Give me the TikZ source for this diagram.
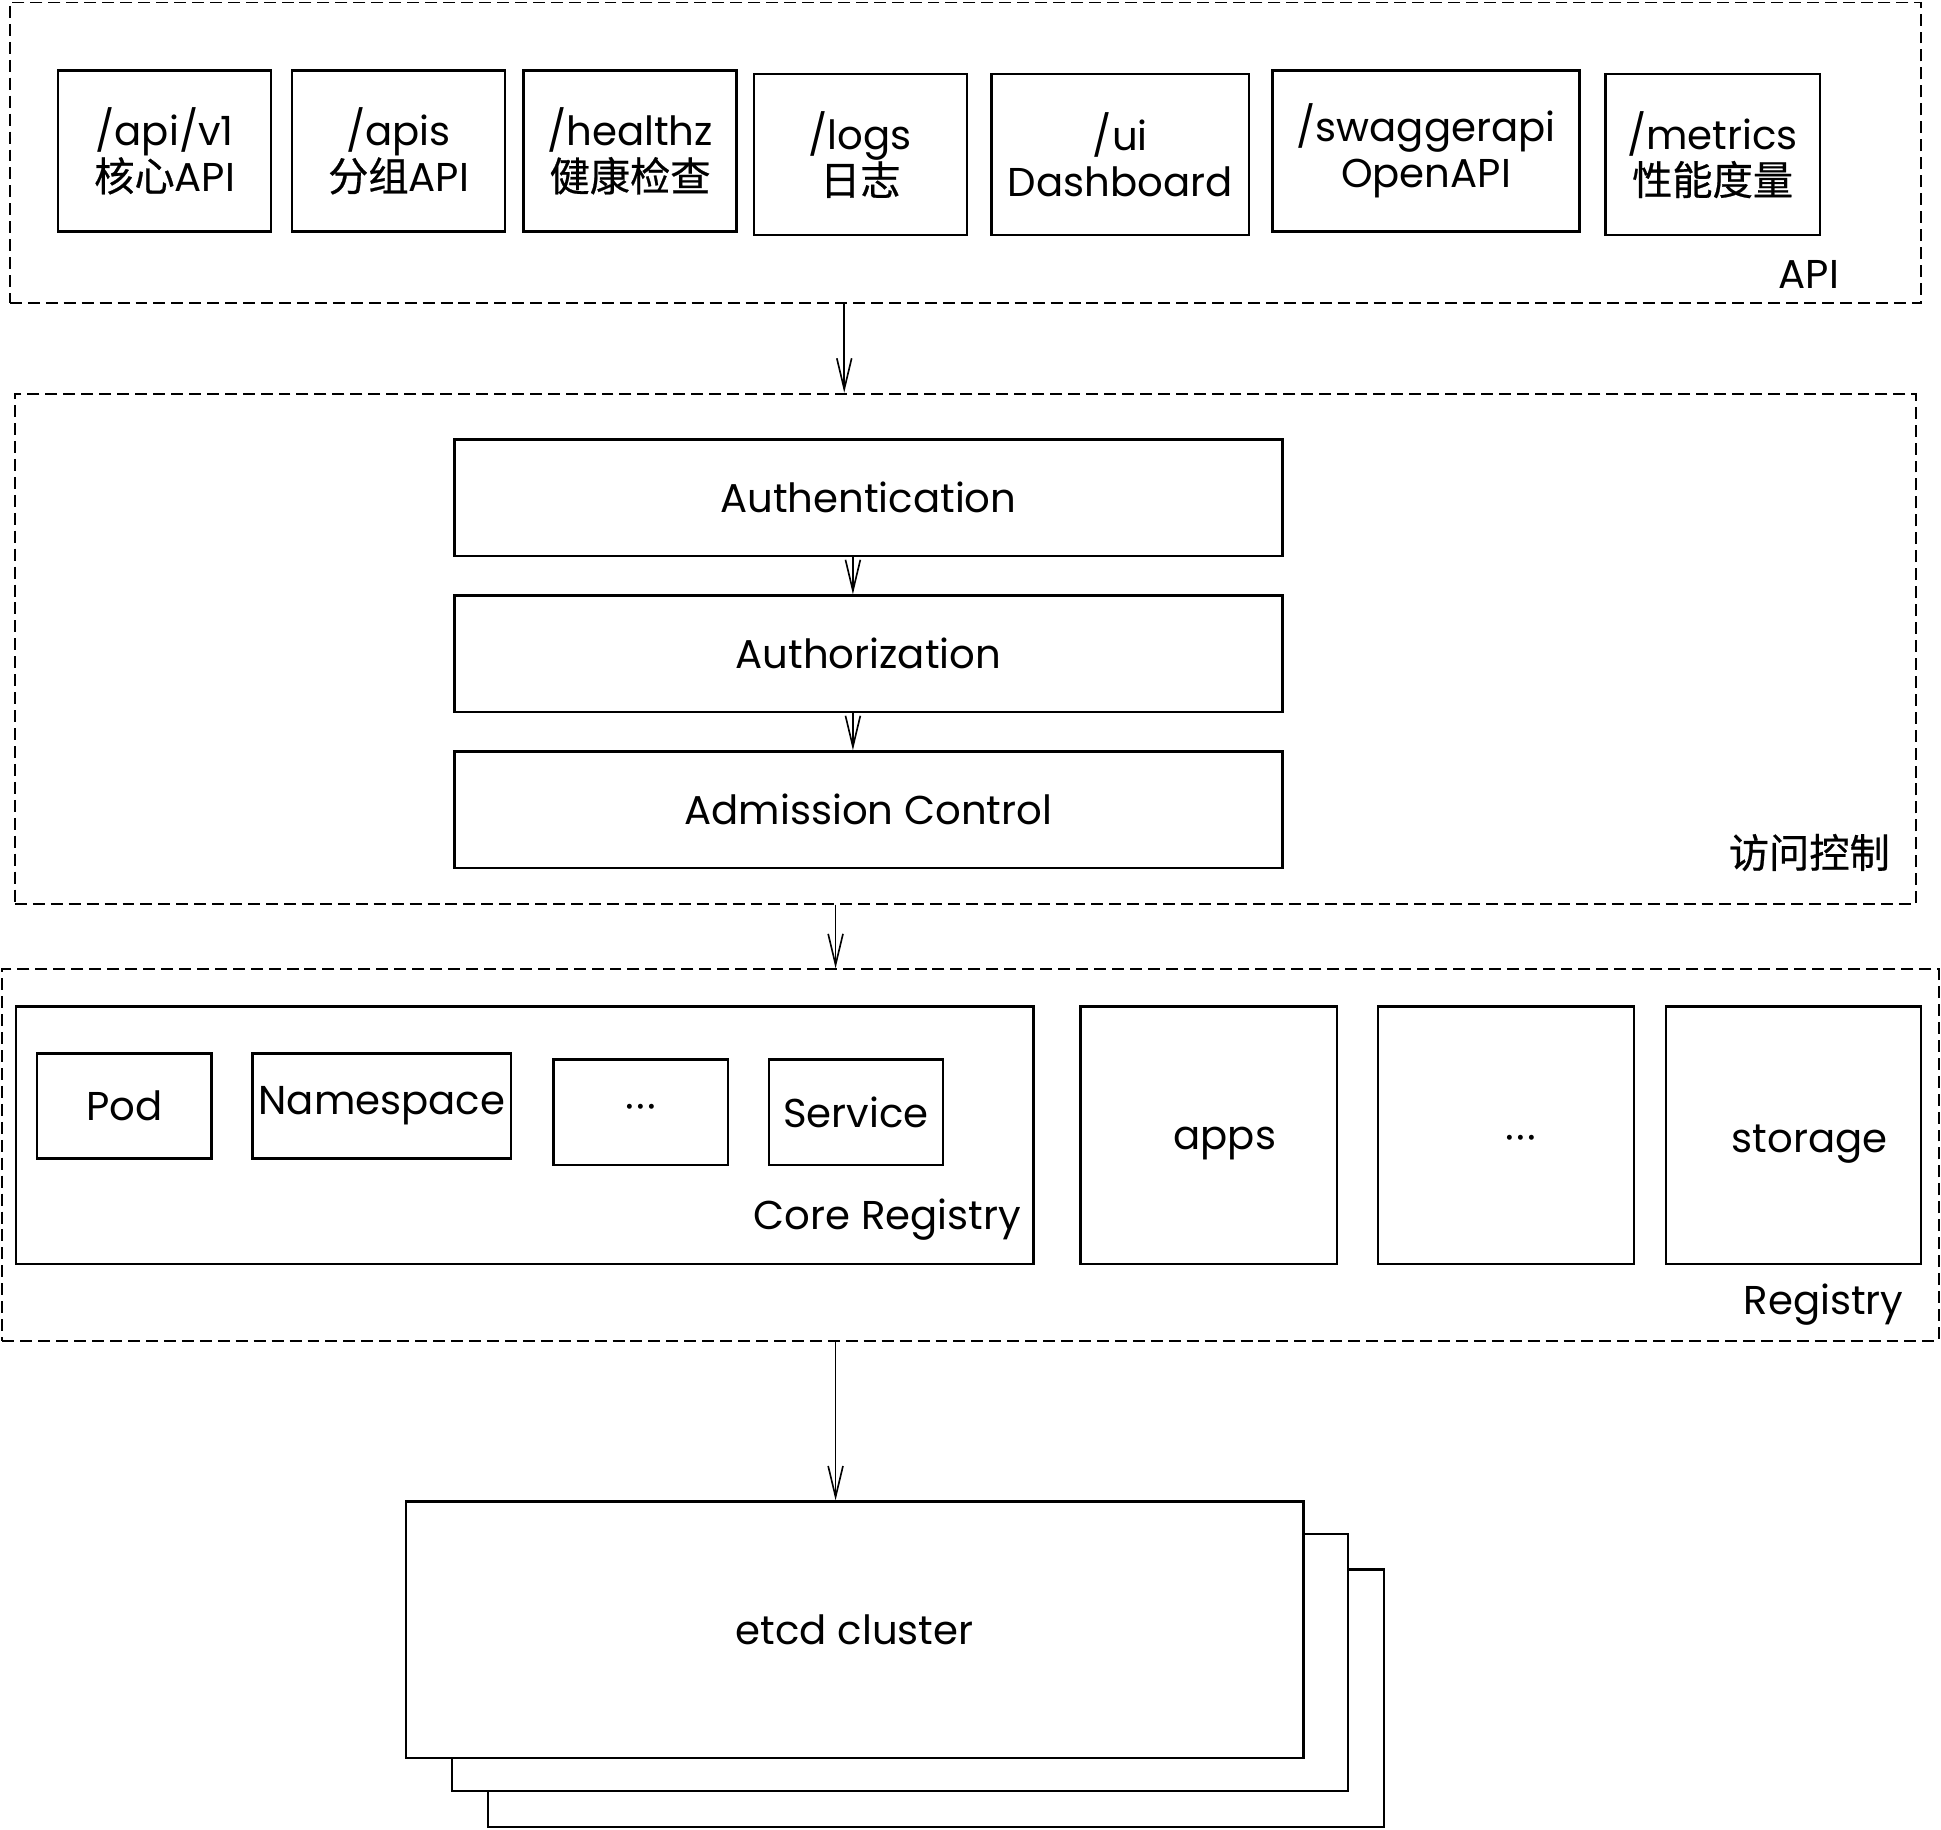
\documentclass[tikz,border=0pt]{standalone}
\usepackage{fontspec}
\setmainfont{Poppins}
\newfontfamily\cjk[FakeBold=0.6]{Noto Sans CJK SC}
\usetikzlibrary{arrows.meta}

\newcommand{\moredots}{·\kern1pt·\kern1pt·}

\tikzset{
	box/.style={draw, line width=1.1pt, fill=white, align=center, inner sep=0pt, font=\fontsize{18.5}{21}\selectfont},
	boxtext/.style={inner sep=0pt, font=\fontsize{18.5}{21}\selectfont},
	group/.style={draw, line width=0.9pt, dash pattern=on 5.5pt off 2.75pt, inner sep=0pt},
	grouplabel/.style={inner sep=0pt, font=\fontsize{18.5}{21}\selectfont},
	flow/.style={line width=0.75pt, -{Straight Barb[length=5mm,width=2.4mm]}},
}

\begin{document}
				\begin{tikzpicture}[x=0.02cm, y=-0.02cm]
					\useasboundingbox (0,0) rectangle (1568,1478);
					
					% API
					\node[group, minimum width=1544*0.02cm, minimum height=243*0.02cm] (api) at (780,123.5) {};
					\node[box, minimum width=172*0.02cm, minimum height=130*0.02cm] (apiv1) at (133,122) {/api/v1\\{\cjk 核心}API};
					\node[box, minimum width=172*0.02cm, minimum height=130*0.02cm] (apis) at (322,122) {/apis\\{\cjk 分组}API};
					\node[box, minimum width=172*0.02cm, minimum height=130*0.02cm] (healthz) at (509,122) {/healthz\\{\cjk 健康检查}};
					\node[box, minimum width=172*0.02cm, minimum height=130*0.02cm] (logs) at (695,125) {/logs\\{\cjk 日志}};
					\node[box, minimum width=208*0.02cm, minimum height=130*0.02cm] (ui) at (905,125) {/ui\\Dashboard};
					\node[box, minimum width=248*0.02cm, minimum height=130*0.02cm] (swagger) at (1152,122) {/swaggerapi\\OpenAPI};
					\node[box, minimum width=173*0.02cm, minimum height=130*0.02cm] (metrics) at (1383.5,125) {/metrics\\{\cjk 性能度量}};
					\node[grouplabel, anchor=base east] (apilabel) at (1486,233) {API};
					
					% access control
					\node[group, minimum width=1536*0.02cm, minimum height=412*0.02cm] (access) at (780,524) {};
					\node[box, minimum width=669*0.02cm, minimum height=94*0.02cm] (authn) at (701.5,402) {Authentication};
					\node[box, minimum width=669*0.02cm, minimum height=94*0.02cm] (authz) at (701.5,528) {Authorization};
					\node[box, minimum width=669*0.02cm, minimum height=94*0.02cm] (admission) at (701.5,654) {Admission Control};
					\node[grouplabel, anchor=base east] (accesslabel) at (1527,701) {\cjk 访问控制};
					
					% registry
					\node[group, minimum width=1564*0.02cm, minimum height=300*0.02cm] (registry) at (784,933) {};
					\node[box, minimum width=822*0.02cm, minimum height=208*0.02cm] (core) at (424,917) {};
					\node[box, minimum width=141*0.02cm, minimum height=85*0.02cm] (pod) at (100.5,893.5) {Pod};
					\node[box, minimum width=209*0.02cm, minimum height=85*0.02cm] (namespace) at (308.5,893.5) {Namespace};
					\node[box, minimum width=141*0.02cm, minimum height=85*0.02cm] (coredots) at (517.5,898.5) {\moredots};
					\node[box, minimum width=141*0.02cm, minimum height=85*0.02cm] (service) at (691.5,898.5) {Service};
					\node[grouplabel, anchor=base east] (corelabel) at (825,993) {Core Registry};
					\node[box, minimum width=207*0.02cm, minimum height=208*0.02cm, label={[boxtext, xshift=0.26cm, yshift=-0.14cm]center:apps}] (apps) at (976.5,917) {};
					\node[box, minimum width=207*0.02cm, minimum height=208*0.02cm, label={[boxtext, xshift=0.24cm, yshift=-0.14cm]center:\moredots}] (regdots) at (1216.5,917) {};
					\node[box, minimum width=206*0.02cm, minimum height=208*0.02cm, label={[boxtext, xshift=0.26cm, yshift=-0.14cm]center:storage}] (storage) at (1449,917) {};
					\node[grouplabel, anchor=base east] (registrylabel) at (1538,1062) {Registry};
					
					% etcd
					\node[box, minimum width=724*0.02cm, minimum height=208*0.02cm] (etcdback) at (756,1372) {};
					\node[box, minimum width=724*0.02cm, minimum height=208*0.02cm] (etcdmid) at (727,1343) {};
					\node[box, minimum width=725*0.02cm, minimum height=207*0.02cm] (etcd) at (690.5,1316.5) {etcd cluster};
					
					\coordinate (flowa) at (682,0);
					\coordinate (flowb) at (689,0);
					\coordinate (flowc) at (675,0);
					\draw[flow] (api.south -| flowa) -- (access.north -| flowa);
					\draw[flow] (authn.south -| flowb) -- (authz.north -| flowb);
					\draw[flow] (authz.south -| flowb) -- (admission.north -| flowb);
					\draw[flow] (access.south -| flowc) -- (registry.north -| flowc);
					\draw[flow] (registry.south -| flowc) -- (etcd.north -| flowc);
				\end{tikzpicture}
\end{document}
